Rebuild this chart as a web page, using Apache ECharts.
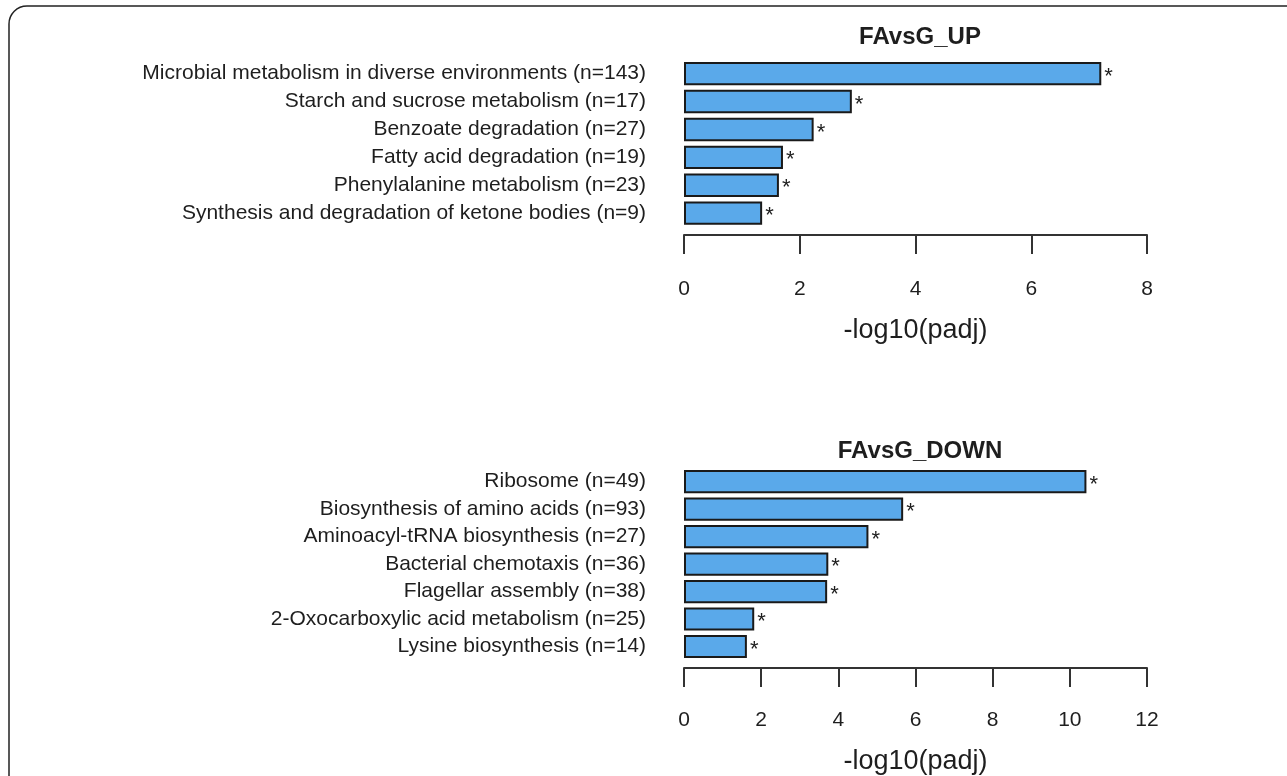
<!DOCTYPE html>
<html>
<head>
<meta charset="utf-8">
<script src="https://cdn.jsdelivr.net/npm/echarts@6/dist/echarts.min.js"></script>
<style>
    html, body { margin: 0; padding: 0; background: #fff; }
    #chart { width: 1287px; height: 776px; }
</style>
</head>
<body>
<div id="chart"></div>
<script>
// 数据
var upCategories = [
    "Microbial metabolism in diverse environments (n=143)",
    "Starch and sucrose metabolism (n=17)",
    "Benzoate degradation (n=27)",
    "Fatty acid degradation (n=19)",
    "Phenylalanine metabolism (n=23)",
    "Synthesis and degradation of ketone bodies (n=9)"
];
var upValues = [7.21, 2.90, 2.24, 1.71, 1.64, 1.35];

var downCategories = [
    "Ribosome (n=49)",
    "Biosynthesis of amino acids (n=93)",
    "Aminoacyl-tRNA biosynthesis (n=27)",
    "Bacterial chemotaxis (n=36)",
    "Flagellar assembly (n=38)",
    "2-Oxocarboxylic acid metabolism (n=25)",
    "Lysine biosynthesis (n=14)"
];
var downValues = [10.43, 5.68, 4.78, 3.74, 3.71, 1.82, 1.63];

var upTicks = [0, 8, 2];     // min, max, interval
var downTicks = [0, 12, 2];

(function () {
    var myChart = echarts.init(document.getElementById("chart"));
    var font = "'Liberation Sans', Arial, Helvetica, sans-serif";
    var ink = "#1e1e1e";

    // x轴公共样式
    function makeX(idx, ticks, offset, margin, nameGap) {
        return {
            type: "value",
            gridIndex: idx,
            min: ticks[0],
            max: ticks[1],
            interval: ticks[2],
            position: "bottom",
            offset: offset,
            name: "-log10(padj)",
            nameLocation: "middle",
            nameGap: nameGap,
            nameTextStyle: { fontFamily: font, fontSize: 27, color: ink },
            splitLine: { show: false },
            axisLine: { show: true, lineStyle: { color: "#333", width: 2 } },
            axisTick: { show: true, inside: false, length: 19, lineStyle: { color: "#333", width: 2 } },
            axisLabel: { fontFamily: font, fontSize: 21, color: ink, margin: margin }
        };
    }

    // y轴: 通路名称
    function makeY(idx, cats) {
        return {
            type: "category",
            gridIndex: idx,
            data: cats,
            inverse: true,
            axisLine: { show: false },
            axisTick: { show: false },
            axisLabel: { fontFamily: font, fontSize: 21, color: ink, margin: 38, interval: 0 }
        };
    }

    function makeBar(idx, values) {
        return {
            type: "bar",
            xAxisIndex: idx,
            yAxisIndex: idx,
            data: values,
            barCategoryGap: "16%",
            itemStyle: { color: "#5aa9ea", borderColor: "#1a1a1a", borderWidth: 2 },
            // 星号标记
            label: {
                show: true,
                position: "right",
                distance: 3,
                formatter: "*",
                fontFamily: font,
                fontSize: 22,
                color: ink,
                offset: [0, 3]
            },
            silent: true
        };
    }

    var option = {
        animation: false,
        backgroundColor: "#fff",
        title: [
            {
                text: "FAvsG_UP",
                left: 915, top: 20, textAlign: "center",
                textStyle: { fontFamily: font, fontSize: 24, fontWeight: "bold", color: ink }
            },
            {
                text: "FAvsG_DOWN",
                left: 915, top: 434, textAlign: "center",
                textStyle: { fontFamily: font, fontSize: 24, fontWeight: "bold", color: ink }
            }
        ],
        grid: [
            { left: 684, right: 140, top: 59.7, height: 167.4 },
            { left: 684, right: 140, top: 467.9, height: 197.4 }
        ],
        xAxis: [
            makeX(0, upTicks, 8, 44, 82),
            makeX(1, downTicks, 7.7, 42, 80)
        ],
        yAxis: [
            makeY(0, upCategories),
            makeY(1, downCategories)
        ],
        series: [
            makeBar(0, upValues),
            makeBar(1, downValues)
        ],
        // 外边框
        graphic: [
            {
                type: "rect",
                silent: true,
                shape: { x: 9, y: 6, width: 1300, height: 800, r: [18, 0, 0, 0] },
                style: { fill: "none", stroke: "#222", lineWidth: 1.5 }
            }
        ]
    };
    myChart.setOption(option);
})();
</script>
</body>
</html>
